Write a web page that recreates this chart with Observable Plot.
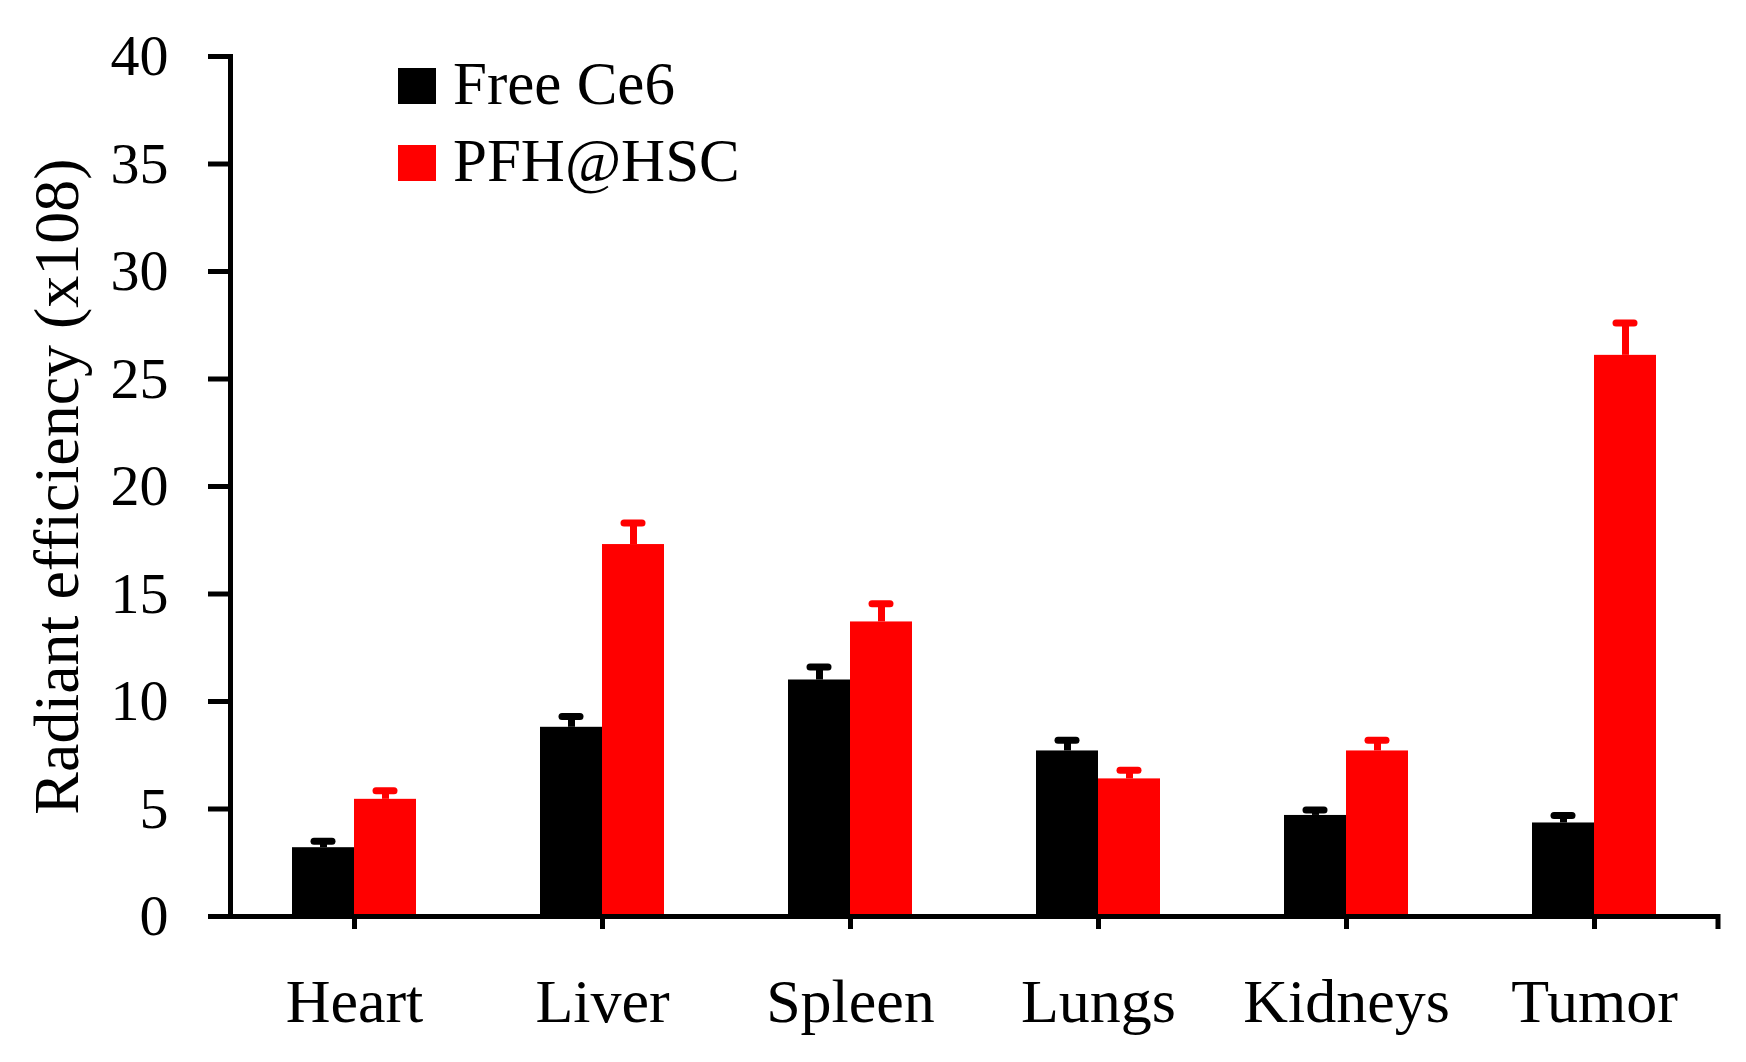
<!DOCTYPE html>
<html>
<head>
<meta charset="utf-8">
<script src="https://cdn.jsdelivr.net/npm/d3@7"></script>
<script src="https://cdn.jsdelivr.net/npm/@observablehq/plot@0.6"></script>
<style>
  html, body { margin: 0; padding: 0; background: #fff; }
  #wrap { position: relative; width: 1746px; height: 1062px; font-family: "Liberation Serif", serif; }
  .lg { position: absolute; left: 398px; width: 38px; height: 36px; }
  .lt { position: absolute; left: 453px; font-size: 61px; line-height: 60px; color: #000; white-space: nowrap; }
</style>
</head>
<body>
<div id="wrap"></div>
<script>
const organs = ["Heart", "Liver", "Spleen", "Lungs", "Kidneys", "Tumor"];
const series = ["Free Ce6", "PFH@HSC"];
const colors = ["#000000", "#ff0000"];
const freeCe6 = [3.2, 8.8, 11.0, 7.7, 4.7, 4.35];
const freeCe6Err = [0.3, 0.5, 0.6, 0.5, 0.25, 0.35];
const pfhHsc = [5.45, 17.3, 13.7, 6.4, 7.7, 26.1];
const pfhHscErr = [0.4, 1.0, 0.85, 0.4, 0.5, 1.5];
const yTicks = [0, 5, 10, 15, 20, 25, 30, 35, 40];
const yLabel = "Radiant efficiency (x108)";

const data = [];
organs.forEach((o, i) => {
  data.push({organ: o, series: series[0], value: freeCe6[i], err: freeCe6Err[i]});
  data.push({organ: o, series: series[1], value: pfhHsc[i], err: pfhHscErr[i]});
});

const chart = Plot.plot({
  width: 1746,
  height: 1062,
  marginTop: 56,
  marginBottom: 146,
  marginLeft: 230,
  marginRight: 28,
  style: {fontFamily: "Liberation Serif, serif", background: "#fff", color: "#000", overflow: "visible"},
  fx: {domain: organs, padding: 0, label: null, axis: null},
  x: {domain: series, paddingInner: 0, paddingOuter: 1, axis: null},
  y: {domain: [0, 40], axis: null},
  color: {domain: series, range: colors},
  marks: [
    Plot.barY(data, {fx: "organ", x: "series", y: "value", fill: "series"}),
    Plot.ruleX(data, {fx: "organ", x: "series", y1: "value", y2: d => d.value + d.err, stroke: "series", strokeWidth: 7}),
    Plot.tickY(data, {fx: "organ", x: "series", y: d => d.value + d.err, stroke: "series", strokeWidth: 7, strokeLinecap: "round", insetLeft: 22, insetRight: 22}),
    Plot.ruleY([0], {stroke: "#000", strokeWidth: 5}),
    Plot.frame({anchor: "left", facetAnchor: "left", stroke: "#000", strokeWidth: 5}),
    Plot.axisY({
      ticks: yTicks, tickSize: 22, tickPadding: 40, strokeWidth: 5, fontSize: 58,
      tickFormat: d => String(d), label: null
    }),
    Plot.axisY({
      ticks: [], label: yLabel, labelAnchor: "center", labelOffset: 198, labelArrow: "none", fontSize: 64
    }),
    Plot.axisFx({anchor: "bottom", tickSize: 13, tickPadding: 48, strokeWidth: 5, fontSize: 62, label: null})
  ]
});

const wrap = document.getElementById("wrap");
wrap.appendChild(chart);

// closing tick at the right end of the category axis
const fxS = chart.scale("fx");
const yS = chart.scale("y");
const xEnd = fxS.apply(organs[organs.length - 1]) + fxS.bandwidth;
const y0 = yS.apply(0);
d3.select(chart).append("line")
  .attr("x1", xEnd).attr("x2", xEnd)
  .attr("y1", y0 - 2).attr("y2", y0 + 13)
  .attr("stroke", "#000").attr("stroke-width", 5);

// legend
const legendTops = [68, 145];
series.forEach((s, i) => {
  const sw = document.createElement("div");
  sw.className = "lg";
  sw.style.top = legendTops[i] + "px";
  sw.style.background = colors[i];
  wrap.appendChild(sw);
  const t = document.createElement("div");
  t.className = "lt";
  t.style.top = (legendTops[i] - 14) + "px";
  t.textContent = s;
  wrap.appendChild(t);
});
</script>
</body>
</html>
